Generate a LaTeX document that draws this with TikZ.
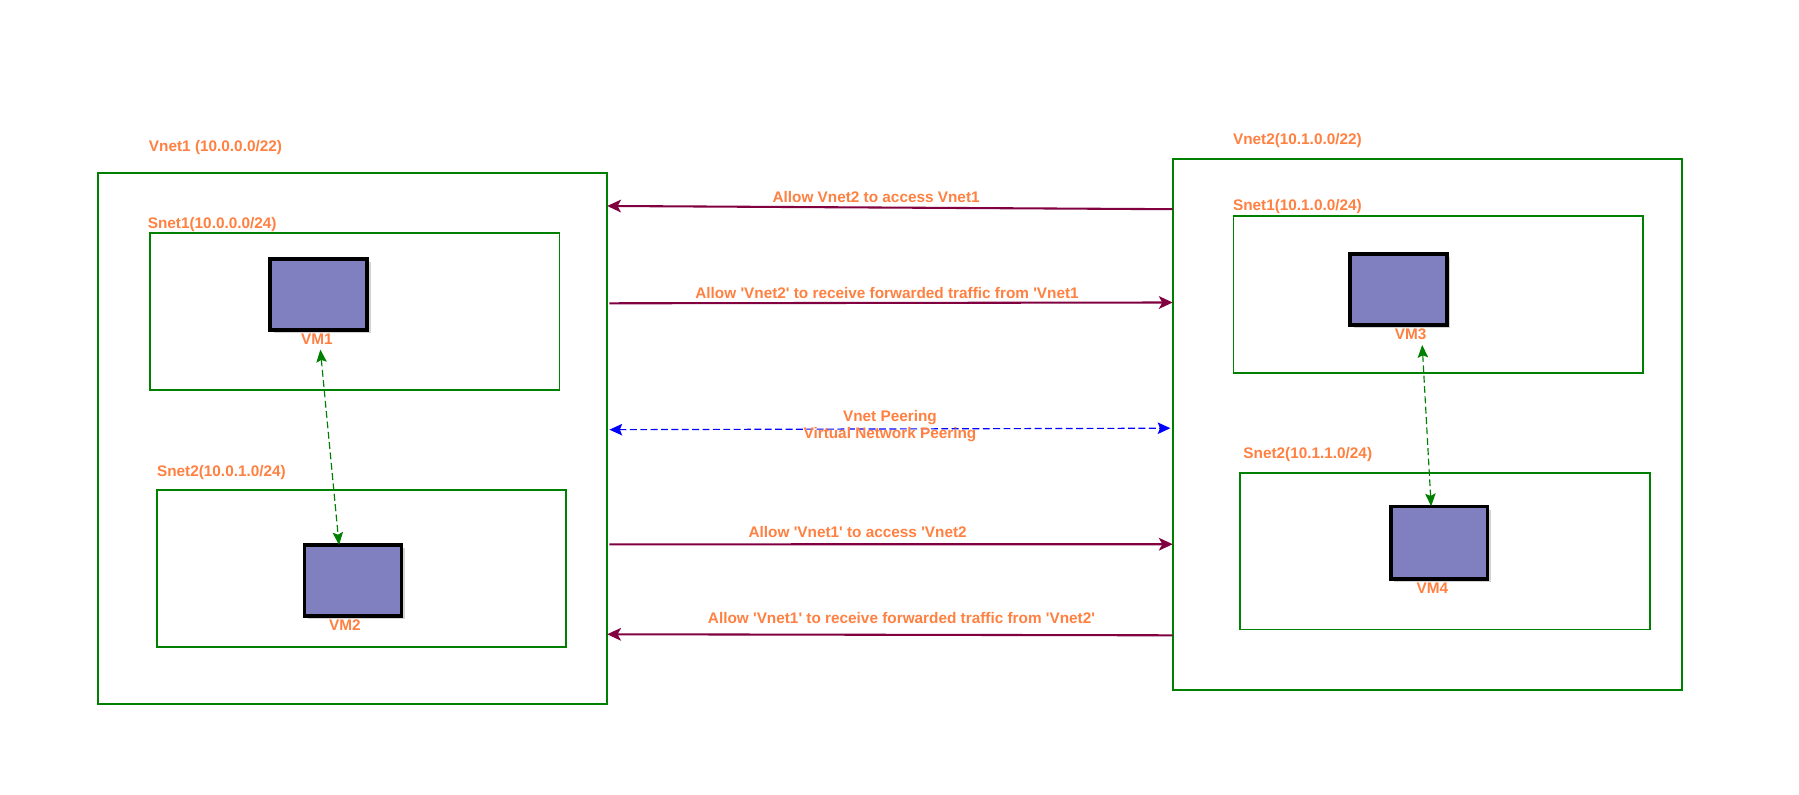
\documentclass[tikz,border=0pt]{standalone}
\usepackage{fontspec}
\setmainfont{Liberation Sans}
\usepackage{tikz}
\usetikzlibrary{arrows.meta, positioning, shadows}

\definecolor{netgreen}{HTML}{008000}
\definecolor{lbl}{HTML}{FF8040}
\definecolor{rule}{HTML}{800040}
\definecolor{vmfill}{HTML}{8080C0}

\newcommand{\qt}{\textquotesingle}

\tikzset{
	netbox/.style={draw=netgreen, line width=1.4pt, inner sep=0pt, outer sep=0pt},
	vmbox/.style={draw=black, fill=vmfill, line width=3pt, inner sep=0pt, outer sep=0pt,
		minimum width=84pt, minimum height=61.5pt,
		drop shadow={shadow xshift=3pt, shadow yshift=-3pt, opacity=0.35}},
	txt/.style={text=lbl, font=\fontsize{13.3}{15.2}\selectfont\bfseries, inner sep=1pt},
	allow/.style={draw=rule, line width=1.8pt, -{Stealth[length=12pt, width=11pt, inset=3pt]}},
	peer/.style={draw=blue, line width=1pt, dash pattern=on 6pt off 3pt,
		{Stealth[length=11pt, width=10pt, inset=2pt]}-{Stealth[length=11pt, width=10pt, inset=2pt]}},
	vmlink/.style={draw=netgreen, line width=1pt, dash pattern=on 6pt off 3pt,
		{Stealth[length=11pt, width=9pt, inset=2pt]}-{Stealth[length=11pt, width=9pt, inset=2pt]}}
}

\begin{document}
\begin{tikzpicture}[x=1pt, y=-1pt]

\useasboundingbox (0,0) rectangle (1560,689);

% left vnet
\node [netbox, minimum width=441.5pt, minimum height=460.5pt] (vnetA) at (305.75,380.25) {};
\node [txt, anchor=west] (vnetAlbl) at (128,128) {Vnet1 (10.0.0.0/22)};

\node [netbox, minimum width=355pt, minimum height=136pt] (snetA1) at (307.5,270) {};
\node [txt, anchor=west] (snetA1lbl) at (127,195) {Snet1(10.0.0.0/24)};
\node [vmbox] (vm1) at (276.3,255.3) {};
\node [txt, below=2.5pt of vm1, xshift=-1.5pt] (vm1lbl) {VM1};

\node [netbox, minimum width=355pt, minimum height=136pt] (snetA2) at (313.5,493) {};
\node [txt, anchor=west] (snetA2lbl) at (135,410) {Snet2(10.0.1.0/24)};
\node [vmbox] (vm2) at (306,503.3) {};
\node [txt, below=2.5pt of vm2, xshift=-7pt] (vm2lbl) {VM2};

\path [vmlink] ([xshift=3pt, yshift=-3pt]vm1lbl.south) -- ([xshift=-12pt]vm2.north);

% right vnet
\node [netbox, minimum width=441.7pt, minimum height=460.4pt] (vnetB) at (1237.75,368.1) {};
\node [txt, anchor=west] (vnetBlbl) at (1068,122) {Vnet2(10.1.0.0/22)};

\node [netbox, minimum width=355pt, minimum height=136pt] (snetB1) at (1247.25,255.25) {};
\node [txt, anchor=west] (snetB1lbl) at (1068,179) {Snet1(10.1.0.0/24)};
\node [vmbox] (vm3) at (1212.75,251) {};
\node [txt, below=2.5pt of vm3, xshift=10.5pt] (vm3lbl) {VM3};

\node [netbox, minimum width=356pt, minimum height=136pt] (snetB2) at (1253,478) {};
\node [txt, anchor=west] (snetB2lbl) at (1077,394) {Snet2(10.1.1.0/24)};
\node [vmbox, minimum height=63pt] (vm4) at (1248,470.5) {};
\node [txt, below=2.5pt of vm4, xshift=-6pt] (vm4lbl) {VM4};

\path [vmlink] ([xshift=10pt, yshift=-3pt]vm3lbl.south) -- ([xshift=-7pt]vm4.north);

% rules between the vnets
\path [allow] ([yshift=-43.5pt]vnetB.north west) -- node [txt, above=2pt, xshift=-12pt] (rule1) {Allow Vnet2 to access Vnet1}
	([yshift=-28.6pt]vnetA.north east);
\path [allow] ([xshift=2pt, yshift=-113pt]vnetA.north east) -- node [txt, above=2pt, xshift=-3.5pt] (rule2) {Allow \qt Vnet2\qt\ to receive forwarded traffic from \qt Vnet1}
	([yshift=-124.4pt]vnetB.north west);
\path [peer] ([xshift=2pt, yshift=-222.6pt]vnetA.north east) -- node [txt, align=center, yshift=2.5pt] (peering) {Vnet Peering\\Virtual Network Peering}
	([xshift=-2pt, yshift=-233.4pt]vnetB.north west);
\path [allow] ([xshift=2pt, yshift=-322pt]vnetA.north east) -- node [txt, above=4pt, xshift=-29pt] (rule3) {Allow \qt Vnet1\qt\ to access \qt Vnet2}
	([yshift=-334pt]vnetB.north west);
\path [allow] ([yshift=-413pt]vnetB.north west) -- node [txt, above=7.5pt, xshift=10pt] (rule4) {Allow \qt Vnet1\qt\ to receive forwarded traffic from \qt Vnet2\qt}
	([yshift=-400pt]vnetA.north east);

\end{tikzpicture}
\end{document}
